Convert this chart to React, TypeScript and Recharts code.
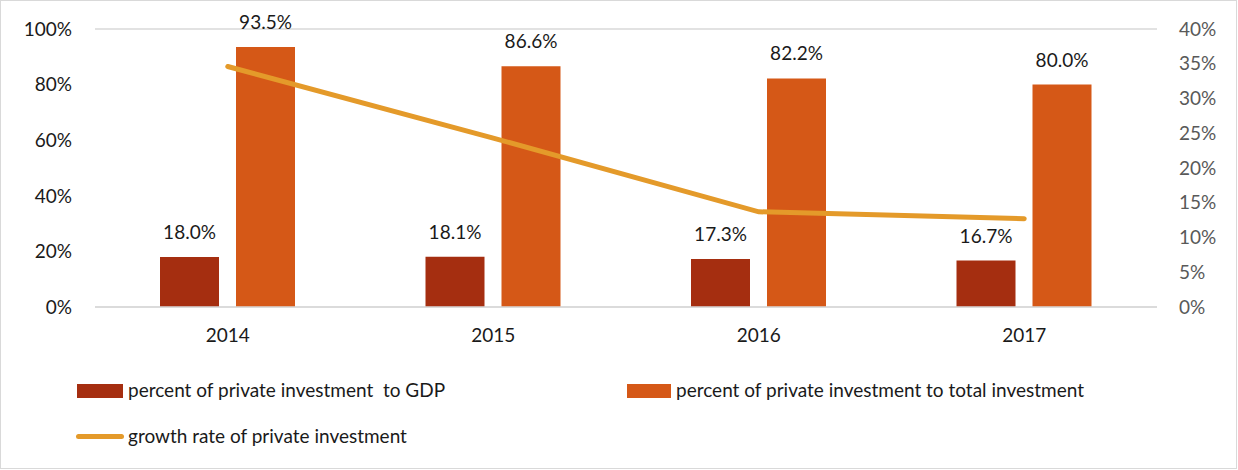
import {
  ComposedChart,
  Bar,
  Line,
  XAxis,
  YAxis,
  CartesianGrid,
  LabelList,
} from "recharts";

const years = ["2014", "2015", "2016", "2017"];
const gdpShare = [18.0, 18.1, 17.3, 16.7];
const totalShare = [93.5, 86.6, 82.2, 80.0];
const growthRate = [34.6, 24.3, 13.7, 12.7];

const leftTicks = [0, 20, 40, 60, 80, 100];
const rightTicks = [0, 5, 10, 15, 20, 25, 30, 35, 40];

const seriesNames = [
  "percent of private investment  to GDP",
  "percent of private investment to total investment",
  "growth rate of private investment",
];

const COLORS = { gdp: "#A52E10", total: "#D55817", growth: "#E49A2A" };
const FONT = "Lato, 'Open Sans', sans-serif";

const data = years.map((year, i) => ({
  year,
  gdp: gdpShare[i],
  total: totalShare[i],
  growth: growthRate[i],
}));

const pct = (v: number) => `${v}%`;
const pct1 = (v: unknown) => `${Number(v).toFixed(1)}%`;

function Legend() {
  const text: React.CSSProperties = { fontFamily: FONT, fontSize: 19, color: "#1a1a1a", whiteSpace: "pre", position: "absolute" };
  return (
    <>
      <div style={{ position: "absolute", left: 77, top: 384, width: 46, height: 14, background: COLORS.gdp }} />
      <div style={{ ...text, left: 128, top: 378 }}>{seriesNames[0]}</div>
      <div style={{ position: "absolute", left: 627, top: 384, width: 44, height: 14, background: COLORS.total }} />
      <div style={{ ...text, left: 676, top: 378 }}>{seriesNames[1]}</div>
      <div style={{ position: "absolute", left: 76, top: 433.5, width: 48, height: 5, borderRadius: 3, background: COLORS.growth }} />
      <div style={{ ...text, left: 128, top: 424 }}>{seriesNames[2]}</div>
    </>
  );
}

export default function App() {
  return (
    <div
      style={{
        position: "fixed",
        left: 0,
        top: 0,
        width: 1237,
        height: 469,
        boxSizing: "border-box",
        border: "1px solid #D9D9D9",
        background: "#fff",
      }}
    >
      <div style={{ position: "absolute", left: -1, top: -1 }}>
        <ComposedChart
          width={1238}
          height={470}
          data={data}
          margin={{ top: 29, right: 0, bottom: 133, left: 0 }}
          barSize={59}
          barGap={17}
        >
          <CartesianGrid vertical={false} stroke="#D9D9D9" strokeWidth={1.5} />
          <XAxis
            dataKey="year"
            axisLine={{ stroke: "#D9D9D9", strokeWidth: 1.5 }}
            tickLine={false}
            tickMargin={16}
            height={30}
            tick={{ fontSize: 19, fill: "#1a1a1a", fontFamily: FONT }}
          />
          <YAxis
            yAxisId="left"
            domain={[0, 100]}
            ticks={leftTicks}
            tickFormatter={pct}
            axisLine={false}
            tickLine={false}
            tickMargin={17}
            width={95}
            tick={{ fontSize: 19, fill: "#1a1a1a", fontFamily: FONT }}
          />
          <YAxis
            yAxisId="right"
            orientation="right"
            domain={[0, 40]}
            ticks={rightTicks}
            tickFormatter={pct}
            axisLine={false}
            tickLine={false}
            tickMargin={16}
            width={81}
            tick={{ fontSize: 19, fill: "#595959", fontFamily: FONT }}
          />
          <Bar yAxisId="left" dataKey="gdp" fill={COLORS.gdp} isAnimationActive={false}>
            <LabelList dataKey="gdp" position="top" offset={18} formatter={pct1} style={{ fontSize: 19, fill: "#1a1a1a", fontFamily: FONT }} />
          </Bar>
          <Bar yAxisId="left" dataKey="total" fill={COLORS.total} isAnimationActive={false}>
            <LabelList dataKey="total" position="top" offset={18} formatter={pct1} style={{ fontSize: 19, fill: "#1a1a1a", fontFamily: FONT }} />
          </Bar>
          <Line
            yAxisId="right"
            dataKey="growth"
            type="linear"
            stroke={COLORS.growth}
            strokeWidth={5}
            strokeLinecap="round"
            dot={false}
            activeDot={false}
            isAnimationActive={false}
          />
        </ComposedChart>
      </div>
      <div style={{ position: "absolute", left: -1, top: -1 }}>
        <Legend />
      </div>
    </div>
  );
}
